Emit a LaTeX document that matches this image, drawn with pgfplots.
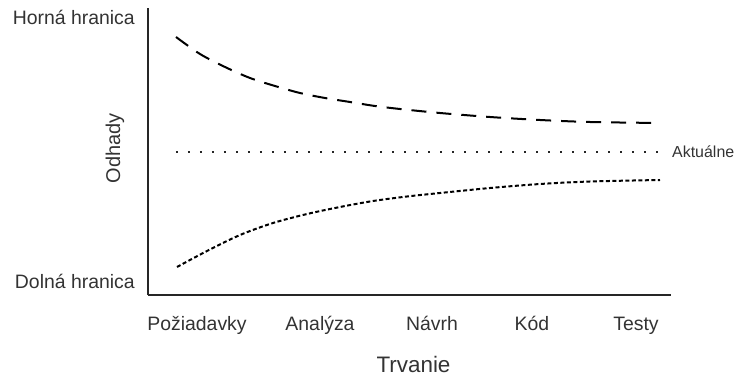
\documentclass[border=0pt]{standalone}
\usepackage{fontspec}
\setmainfont{Liberation Sans}
\usepackage{pgfplots}
\pgfplotsset{compat=1.18}
\definecolor{txt}{HTML}{333333}
\begin{document}
\begin{tikzpicture}
\path[use as bounding box] (-148bp,-83bp) rectangle (589bp,295bp);
\begin{axis}[
  at={(0,0)}, anchor=south west,
  scale only axis, width=523bp, height=287bp,
  xmin=148, xmax=671, ymin=0, ymax=287,
  clip=false,
  axis lines=left,
  axis line style={-, line width=1.6bp, color=black!85},
  major tick length=0,
  xtick={197,320,432,532,636},
  xticklabels={Požiadavky,Analýza,Návrh,Kód,Testy},
  ytick={7,270},
  yticklabels={Dolná hranica,Horná hranica},
  xticklabel style={anchor=base, inner sep=0, yshift=-35bp, font=\fontsize{19.5}{22}\selectfont, text=txt},
  yticklabel style={anchor=base east, inner sep=0, xshift=-13bp, font=\fontsize{19.5}{22}\selectfont, text=txt},
  xlabel={Trvanie},
  ylabel={Odhady},
  every axis x label/.style={at={(axis description cs:0.5,0)}, anchor=base, inner sep=0, yshift=-77bp, xshift=4bp, font=\fontsize{22.5}{25}\selectfont, text=txt},
  every axis y label/.style={at={(axis description cs:0,0.5)}, rotate=90, anchor=center, inner sep=0, yshift=33bp, xshift=3bp, font=\fontsize{20}{23}\selectfont, text=txt},
]
% upper estimate
\addplot[black, line width=2bp, dash pattern=on 15bp off 10bp, smooth] coordinates {
(176,258) (200,241) (225,228) (250,217) (275,209) (300,202) (325,197) (350,193) (375,189) (400,186) (440,182) (490,178) (540,175) (590,173) (660,172)};
% actual
\addplot[black!85, line width=1.8bp, dash pattern=on 1.8bp off 10.2bp] coordinates {(176,143) (660,143)};
% lower estimate
\addplot[black, line width=2bp, dash pattern=on 4bp off 2.5bp, smooth] coordinates {
(177,28) (207,44) (240,60) (273,72) (307,81) (340,88) (373,94) (407,98.5) (440,102) (490,107) (540,111) (590,113.5) (660,115)};
\node[anchor=west, inner sep=0, text=txt, font=\fontsize{16}{18}\selectfont] at (axis cs:672,143) {Aktuálne};
\end{axis}
\end{tikzpicture}
\end{document}
